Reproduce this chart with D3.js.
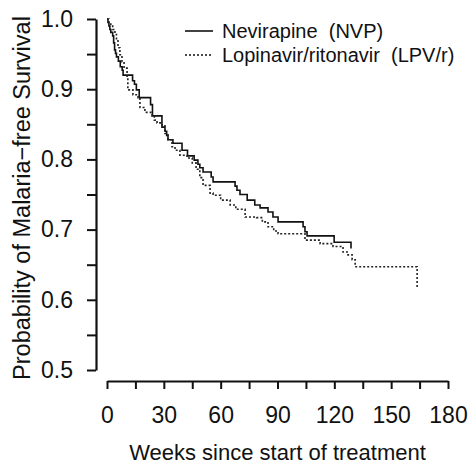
<!DOCTYPE html>
<html>
<head>
<meta charset="utf-8">
<script src="https://d3js.org/d3.v7.min.js"></script>
<style>
  body { margin: 0; background: #fff; }
  svg { display: block; }
  text { font-family: "Liberation Sans", Arial, Helvetica, sans-serif; fill: #111; }
</style>
</head>
<body>
<svg id="km-chart"></svg>
<script>
////////////////////////////////////////////////////////////////////////////////
////////////////////////////////////////////////////////////////// Chart data
////////////////////////////////////////////////////////////////////////////////

// Nevirapine (NVP) - event weeks and survival after each step
const nvpWeeks = [0, 0.5, 1, 1.5, 2, 3, 3.5, 4, 4.5, 5, 6, 7, 8, 8.5, 13.5, 14.5, 15.5, 17,
  23, 24, 29, 30.6, 31.5, 32.2, 34.8, 39.6, 42.5, 46, 48, 49, 50.7, 55, 56, 67.6, 68.6,
  70.2, 74, 78, 80.8, 85, 87.6, 90.3, 103.5, 104.5, 105.6, 119.9, 128.8];
const nvpSurv = [1.0, 0.995, 0.990, 0.985, 0.981, 0.976, 0.966, 0.956, 0.951, 0.946, 0.940,
  0.932, 0.927, 0.920, 0.912, 0.907, 0.899, 0.888, 0.878, 0.862, 0.846, 0.840, 0.834, 0.828,
  0.823, 0.813, 0.805, 0.799, 0.793, 0.788, 0.782, 0.775, 0.768, 0.762, 0.756, 0.750, 0.742,
  0.735, 0.731, 0.725, 0.718, 0.711, 0.704, 0.697, 0.691, 0.682, 0.673];

// Lopinavir/ritonavir (LPV/r)
const lpvWeeks = [0, 1, 2, 3, 4.2, 5, 5.8, 6.8, 7.9, 9, 10.6, 11, 13.7, 16.4, 17.4, 20, 23.8,
  25, 26.4, 29, 30.6, 32.2, 34.3, 35.9, 38.5, 42.2, 45, 47, 49, 50.7, 54.4, 56, 60, 65, 68,
  72.9, 79, 82, 85, 88, 90.3, 104.5, 112.5, 119.3, 124.6, 127.2, 129.4, 131, 163.7];
const lpvSurv = [1.0, 0.995, 0.990, 0.985, 0.978, 0.969, 0.959, 0.949, 0.939, 0.930, 0.916,
  0.899, 0.892, 0.888, 0.874, 0.867, 0.862, 0.856, 0.852, 0.849, 0.837, 0.828, 0.818, 0.813,
  0.806, 0.802, 0.795, 0.786, 0.774, 0.763, 0.752, 0.749, 0.742, 0.735, 0.729, 0.718, 0.717,
  0.711, 0.704, 0.698, 0.694, 0.685, 0.680, 0.676, 0.668, 0.664, 0.657, 0.647, 0.617];

// Axis ticks
const xTicks = [0, 15, 30, 45, 60, 75, 90, 105, 120, 135, 150, 165, 180];
const xLabels = [0, 30, 60, 90, 120, 150, 180];
const yTicks = [0.5, 0.55, 0.6, 0.65, 0.7, 0.75, 0.8, 0.85, 0.9, 0.95, 1.0];
const yLabels = ["0.5", "0.6", "0.7", "0.8", "0.9", "1.0"];

const seriesNames = ["Nevirapine  (NVP)", "Lopinavir/ritonavir  (LPV/r)"];

////////////////////////////////////////////////////////////////////////////////
////////////////////////////////////////////////////////////////// SVG setup
////////////////////////////////////////////////////////////////////////////////

const W = 469;
const H = 466;
const margin = { top: 19, right: 21, bottom: 96, left: 107 };

const svg = d3.select("#km-chart")
              .attr("width", W)
              .attr("height", H);

const xScale = d3.scaleLinear()
                 .domain([0, 180])
                 .range([margin.left, W - margin.right]);
const yScale = d3.scaleLinear()
                 .domain([0.5, 1.0])
                 .range([H - margin.bottom, margin.top]);

// X-axis, detached below the plot
const xAxis = d3.axisBottom(xScale)
                .tickValues(xTicks)
                .tickFormat(d => xLabels.includes(d) ? d : "")
                .tickSize(8)
                .tickSizeOuter(0)
                .tickPadding(18);
const xG = svg.append("g")
              .attr("transform", `translate(0, ${yScale(0.5) + 11})`)
              .call(xAxis);

// Y-axis, detached left of the plot
const yAxis = d3.axisLeft(yScale)
                .tickValues(yTicks)
                .tickFormat(d => Math.abs(d * 10 - Math.round(d * 10)) < 1e-6 && yLabels.includes(d.toFixed(1)) ? d.toFixed(1) : "")
                .tickSize(9)
                .tickSizeOuter(0)
                .tickPadding(14);
const yG = svg.append("g")
              .attr("transform", `translate(${xScale(0) - 11}, 0)`)
              .call(yAxis);

[xG, yG].forEach(g => {
  g.select(".domain").attr("stroke", "#111").attr("stroke-width", 2.2);
  g.selectAll(".tick line").attr("stroke", "#111").attr("stroke-width", 2);
  g.selectAll(".tick text")
   .attr("fill", "#111")
   .style("font-size", "23px")
   .style("font-family", "'Liberation Sans', Arial, sans-serif");
});

// Survival curves
const line = d3.line()
               .x(d => xScale(d[0]))
               .y(d => yScale(d[1]))
               .curve(d3.curveStepAfter);

svg.append("path")
   .datum(d3.zip(nvpWeeks, nvpSurv))
   .attr("fill", "none")
   .attr("stroke", "#111")
   .attr("stroke-width", 1.6)
   .attr("d", line);

svg.append("path")
   .datum(d3.zip(lpvWeeks, lpvSurv))
   .attr("fill", "none")
   .attr("stroke", "#222")
   .attr("stroke-width", 1.6)
   .attr("stroke-dasharray", "2,2")
   .attr("d", line);

// Legend
const legend = svg.append("g");
seriesNames.forEach((name, i) => {
  const ly = 31 + i * 24;
  legend.append("line")
        .attr("x1", 185).attr("x2", 213)
        .attr("y1", ly).attr("y2", ly)
        .attr("stroke", "#111")
        .attr("stroke-width", 1.6)
        .attr("stroke-dasharray", i === 0 ? null : "2,2");
  legend.append("text")
        .attr("x", 222)
        .attr("y", ly)
        .attr("dy", "0.35em")
        .style("font-size", "20px")
        .style("white-space", "pre")
        .text(name);
});

// Axis titles
svg.append("text")
   .attr("x", (xScale(0) + xScale(180)) / 2)
   .attr("y", 460)
   .style("text-anchor", "middle")
   .style("font-size", "22px")
   .text("Weeks since start of treatment");

svg.append("text")
   .attr("transform", "rotate(-90)")
   .attr("x", -198)
   .attr("y", 30)
   .style("text-anchor", "middle")
   .style("font-size", "23.5px")
   .text("Probability of Malaria\u2212free Survival");
</script>
</body>
</html>
